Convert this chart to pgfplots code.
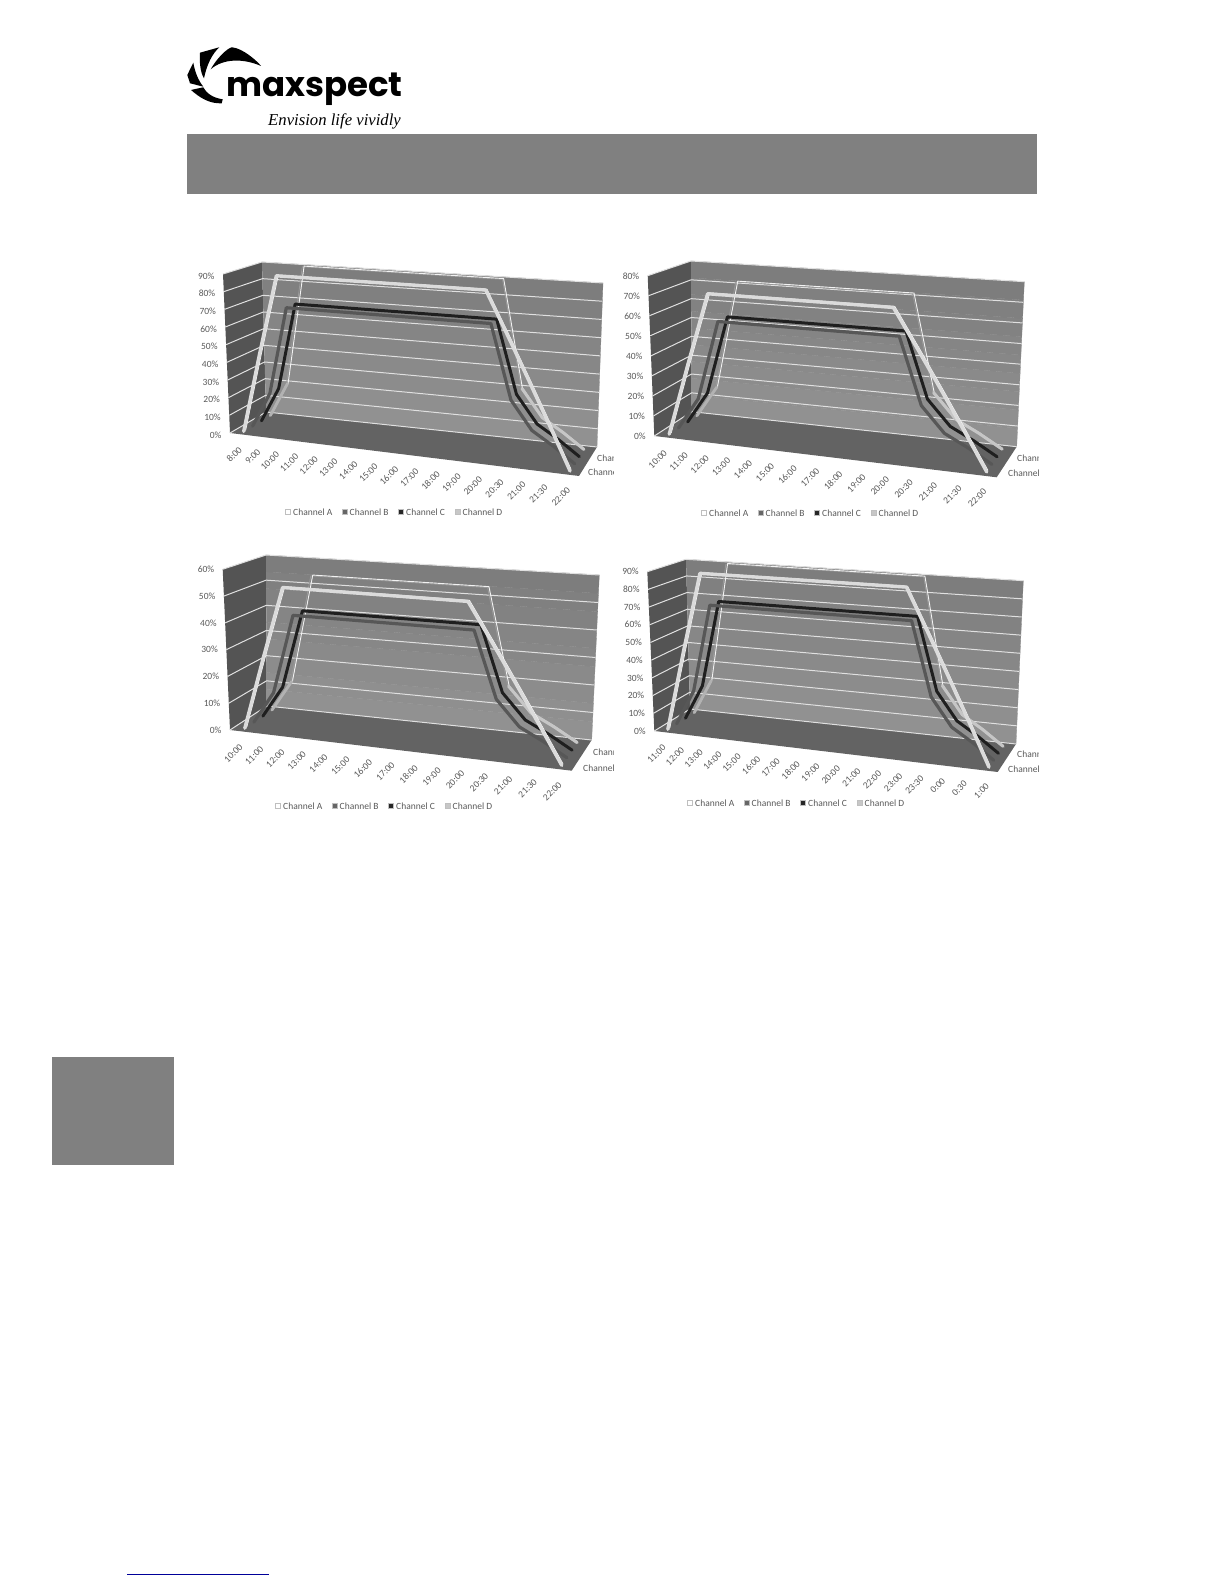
\documentclass[border=0pt]{standalone}
\usepackage{fontspec}
\setmainfont{Carlito}
\newfontfamily\logofont{Poppins}
\newfontfamily\tagfont{Liberation Serif}
\usepackage{pgfplots}
\pgfplotsset{compat=1.18}
\usepackage{pgfplotstable}

\definecolor{leftwall}{gray}{0.33}
\definecolor{floorcol}{gray}{0.39}
\definecolor{gridcol}{gray}{0.88}
\definecolor{labelcol}{gray}{0.35}
\definecolor{pagegray}{gray}{0.5}

% light schedules, percent per channel
\pgfplotstableread{
i time A B C D
0 8:00 0 0 0 0
1 9:00 45 20 20 20
2 10:00 90 70 70 90
3 11:00 90 70 70 90
4 12:00 90 70 70 90
5 13:00 90 70 70 90
6 14:00 90 70 70 90
7 15:00 90 70 70 90
8 16:00 90 70 70 90
9 17:00 90 70 70 90
10 18:00 90 70 70 90
11 19:00 90 70 70 90
12 20:00 90 70 70 90
13 20:30 67.5 30 30 30
14 21:00 45 15 15 15
15 21:30 22.5 8 8 8
16 22:00 0 0 0 0
}\tabone
\pgfplotstableread{
i time A B C D
0 10:00 0 0 0 0
1 11:00 36 16 16 16
2 12:00 72 56 56 72
3 13:00 72 56 56 72
4 14:00 72 56 56 72
5 15:00 72 56 56 72
6 16:00 72 56 56 72
7 17:00 72 56 56 72
8 18:00 72 56 56 72
9 19:00 72 56 56 72
10 20:00 72 56 56 72
11 20:30 54 24 24 24
12 21:00 36 12 12 12
13 21:30 18 6.4 6.4 6.4
14 22:00 0 0 0 0
}\tabtwo
\pgfplotstableread{
i time A B C D
0 10:00 0 0 0 0
1 11:00 27 12 12 12
2 12:00 54 42 42 54
3 13:00 54 42 42 54
4 14:00 54 42 42 54
5 15:00 54 42 42 54
6 16:00 54 42 42 54
7 17:00 54 42 42 54
8 18:00 54 42 42 54
9 19:00 54 42 42 54
10 20:00 54 42 42 54
11 20:30 40.5 18 18 18
12 21:00 27 9 9 9
13 21:30 13.5 4.8 4.8 4.8
14 22:00 0 0 0 0
}\tabthree
\pgfplotstableread{
i time A B C D
0 11:00 0 0 0 0
1 12:00 45 20 20 20
2 13:00 90 70 70 90
3 14:00 90 70 70 90
4 15:00 90 70 70 90
5 16:00 90 70 70 90
6 17:00 90 70 70 90
7 18:00 90 70 70 90
8 19:00 90 70 70 90
9 20:00 90 70 70 90
10 21:00 90 70 70 90
11 22:00 90 70 70 90
12 23:00 90 70 70 90
13 23:30 67.5 30 30 30
14 0:00 45 15 15 15
15 0:30 22.5 8 8 8
16 1:00 0 0 0 0
}\tabfour

% corners of the 3D box in page pixels
\def\setc#1 #2,#3;{\expandafter\def\csname #1x\endcsname{#2}\expandafter\def\csname #1y\endcsname{#3}}
% w along time, s along depth, t along value
\newcommand{\Tri}[4]{((1-(#4))*((1-(#3))*(\csname FL#1\endcsname+(\csname FR#1\endcsname-\csname FL#1\endcsname)*(#2))+(#3)*(\csname BL#1\endcsname+(\csname BR#1\endcsname-\csname BL#1\endcsname)*(#2)))+(#4)*((1-(#3))*(\csname TFL#1\endcsname+(\csname TFR#1\endcsname-\csname TFL#1\endcsname)*(#2))+(#3)*(\csname TBL#1\endcsname+(\csname TBR#1\endcsname-\csname TBL#1\endcsname)*(#2))))}
\pgfmathdeclarefunction{wp}{1}{\pgfmathparse{((#1+0.5)/\Ncat)*(0.9+0.1*(#1+0.5)/\Ncat)}}

\pgfplotsset{
  /pgfplots/table/proj/.style 2 args={
    x expr={\Tri{x}{wp(\thisrow{i})}{(#2+0.5)/4}{\thisrow{#1}/\Vmax}},
    y expr={\Tri{y}{wp(\thisrow{i})}{(#2+0.5)/4}{\thisrow{#1}/\Vmax}}},
  /pgfplots/table/box/.style={row sep=\\,
    x expr={\Tri{x}{\thisrow{w}}{\thisrow{s}}{\thisrow{v}/\Vmax}},
    y expr={\Tri{y}{\thisrow{w}}{\thisrow{s}}{\thisrow{v}/\Vmax}}},
  pageaxis/.style={at={(0,0)},anchor=south west,scale only axis,width=1224pt,height=1584pt,
    xmin=0,xmax=1224,ymin=0,ymax=1584,y dir=reverse,hide axis,clip=false},
  lab/.style={mark=none,draw=none,point meta=explicit symbolic,nodes near coords,
    font=\fontsize{9.5}{10}\selectfont,color=labelcol},
  ln/.style={line join=round,line cap=round}
}

\newcommand{\chart}[5]{%
\pgfmathtruncatemacro{\Nm}{#2-4}%
\def\Ncat{#2}\def\Vmax{#3}%
\begin{axis}[pageaxis]
\addplot[fill=leftwall,draw=none] table[box] {w s v\\0 0 0\\0 1 0\\0 1 #3\\0 0 #3\\};
% back wall, slightly lighter towards the floor
\pgfplotsinvokeforeach{43,44,...,51}{
  \addplot[fill=black!##1,draw=black!##1,line width=0.3pt] table[row sep=\\,
    x expr={\Tri{x}{\thisrow{w}}{1}{(##1-43+\thisrow{v})/9}},
    y expr={\Tri{y}{\thisrow{w}}{1}{(##1-43+\thisrow{v})/9}}] {w v\\0 0\\1 0\\1 1\\0 1\\};
}
\addplot[fill=floorcol,draw=none] table[box] {w s v\\0 0 0\\1 0 0\\1 1 0\\0 1 0\\};
\pgfplotsinvokeforeach{#4}{
  \addplot[gridcol,line width=1pt] table[box] {w s v\\0 0 ##1\\0 1 ##1\\1 1 ##1\\};
  \addplot[lab,every node near coord/.append style={anchor=east,xshift=-5pt,yshift=#5,text=labelcol},
    nodes near coords={\pgfplotspointmeta\%}] table[box,meta=v] {w s v\\0 0 ##1\\};
}
\addplot[lab,every node near coord/.append style={anchor=north east,rotate=45,xshift=-6pt,yshift=-4pt,text=labelcol}]
  table[x expr={\Tri{x}{wp(\thisrow{i})}{0}{0}},y expr={\Tri{y}{wp(\thisrow{i})}{0}{0}},meta=time] {#1};
% channel D, back
\addplot[gray!80!white,line width=0.8pt,line join=round] table[proj={D}{2.88}] {#1};
\addplot[white!90!gray,line width=0.9pt,line join=round] table[proj={D}{3.08}] {#1};
\addplot[gray!60!white,line width=2.8pt,ln,skip coords between index={2}{99}] table[proj={D}{3}] {#1};
\addplot[gray!45!white,line width=3pt,ln,skip coords between index={0}{\Nm}] table[proj={D}{3}] {#1};
% channel C
\addplot[black!88,line width=3pt,ln] table[proj={C}{2}] {#1};
% channel B
\addplot[black!66,line width=3.2pt,ln] table[proj={B}{1}] {#1};
% channel A, front
\addplot[white!95!gray,line width=0.8pt,line join=round] table[proj={A}{0.22}] {#1};
\addplot[black!14,line width=3.4pt,ln] table[proj={A}{0}] {#1};
\end{axis}}

\newcommand{\legendrow}[2]{%
  \foreach \n/\c/\t in {0/white/A,1/black!60/B,2/black!85/C,3/black!22/D}{
    \fill[\c,draw=black!25,line width=0.3pt] ({#1+\n*56.5-2.5},{#2-2.5}) rectangle ({#1+\n*56.5+2.5},{#2+2.5});
    \node[anchor=west,inner sep=0pt,text=labelcol,font=\fontsize{9.5}{10}\selectfont] at ({#1+\n*56.5+5},#2) {Channel \t};
  }}
% series names on the depth axis, cut off at the edge of the chart's frame
\newcommand{\depthlabels}[5]{%
  \begin{scope}
  \clip (#1-20,#2-10) rectangle (#5,#4+10);
  \node[anchor=west,inner sep=0pt,text=labelcol,font=\fontsize{9.5}{10}\selectfont] at (#1,#2) {Channel B};
  \node[anchor=west,inner sep=0pt,text=labelcol,font=\fontsize{9.5}{10}\selectfont] at (#3,#4) {Channel A};
  \end{scope}}

\begin{document}
\begin{tikzpicture}
\path[use as bounding box] (0,0) rectangle (1224pt,1584pt);

\setc FL 230,433; \setc FR 579,476; \setc BL 266,412; \setc BR 597,447;
\setc TFL 223,274; \setc TFR 586,299; \setc TBL 262,262; \setc TBR 603,283;
\chart{\tabone}{17}{90}{0,10,...,90}{-2pt}

\setc FL 654.3,436; \setc FR 996.7,477.3; \setc BL 691.7,411.7; \setc BR 1016.7,446.7;
\setc TFL 647.7,275.7; \setc TFR 1005,300.7; \setc TBL 691,261; \setc TBR 1024.3,281.7;
\chart{\tabtwo}{15}{80}{0,10,...,80}{-0.5pt}

\setc FL 230,730; \setc FR 571.7,770.7; \setc BL 266.7,706; \setc BR 591.7,740;
\setc TFL 222.7,569.3; \setc TFR 579.3,595; \setc TBL 266,555; \setc TBR 599.3,575;
\chart{\tabthree}{15}{60}{0,10,...,60}{0pt}

\setc FL 654.3,731; \setc FR 997.7,772; \setc BL 690,709; \setc BR 1016,744;
\setc TFL 647.3,571.7; \setc TFR 1005,595.7; \setc TBL 686,559.3; \setc TBR 1023.3,580.7;
\chart{\tabfour}{17}{90}{0,10,...,90}{0pt}

\begin{scope}[x=1pt,y=-1pt,shift={(0,1584pt)}]
  \fill[pagegray] (187,134.5) rectangle (1037,194);
  \fill[pagegray] (52,1057) rectangle (174,1165);
  \draw[blue!60!black,line width=1pt] (127,1575) -- (269,1575);

  \legendrow{288}{512}
  \legendrow{704}{513}
  \legendrow{278}{806}
  \legendrow{690}{803}

  \depthlabels{597}{458}{588}{472}{613}
  \depthlabels{1017}{458}{1008}{473}{1038}
  \depthlabels{593}{752}{583}{768}{613}
  \depthlabels{1017}{754}{1008}{769}{1038}

  % logo
  \fill[black] (210.7,69.3) .. controls (220,53.3) and (230,47.3) .. (232,47.3)
     .. controls (243.3,48.3) and (258,62) .. (261,66)
     .. controls (243.3,58.3) and (223.3,58.3) .. (210.7,69.3) -- cycle;
  \fill[black] (219.3,47.3) -- (200,52.7) .. controls (199.5,62) and (200,72) .. (204,78.3)
     .. controls (206.7,65) and (212,54) .. (219.3,47.3) -- cycle;
  \fill[black] (193.3,62.7) -- (187.3,75) -- (190,83.3) -- (203.3,86.7)
     .. controls (198,80) and (195,72) .. (193.3,62.7) -- cycle;
  \fill[black] (191,90) -- (203.3,87.3) .. controls (206,93) and (213,98) .. (222.7,99.3)
     -- (221.7,103.3) .. controls (210,104) and (200,98) .. (191,90) -- cycle;
  \node[anchor=base west,inner sep=0pt,font=\logofont\bfseries\fontsize{34}{34}\selectfont] at (226,97) {maxspect};
  \node[anchor=base west,inner sep=0pt,font=\tagfont\itshape\fontsize{16.7}{17}\selectfont] at (268,126) {Envision life vividly};
\end{scope}
\end{tikzpicture}
\end{document}
